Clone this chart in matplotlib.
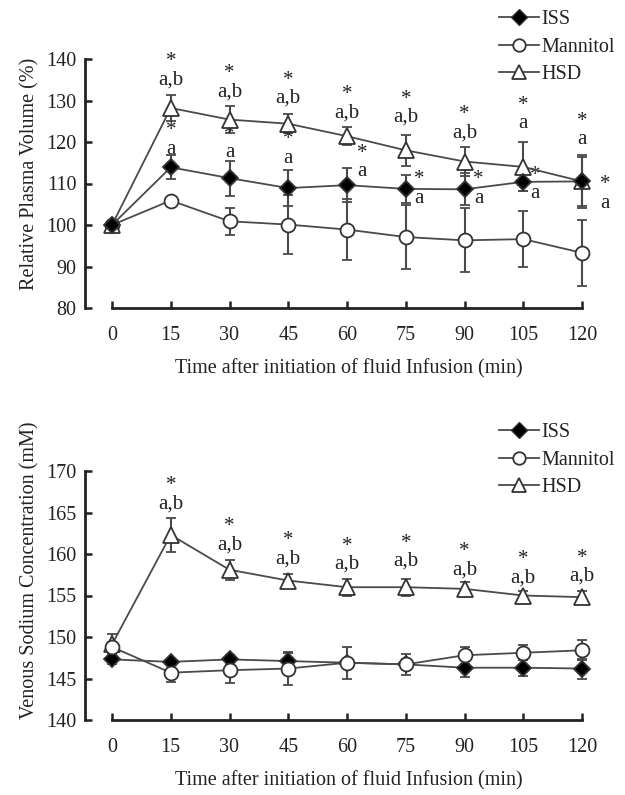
import matplotlib
matplotlib.use("Agg")
import matplotlib.pyplot as plt
from matplotlib.lines import Line2D

plt.rcParams['font.family'] = ['Liberation Serif', 'DejaVu Serif']

times = [0, 15, 30, 45, 60, 75, 90, 105, 120]
groups = ['ISS', 'Mannitol', 'HSD']

# Relative plasma volume (%)
pv_iss = [100, 113.9, 111.3, 108.9, 109.6, 108.7, 108.6, 110.4, 110.5]
pv_iss_err = [0, 2.9, 4.2, 4.3, 4.1, 3.4, 3.9, 2.2, 6.0]
pv_man = [100, 105.9, 100.9, 100.1, 98.9, 97.1, 96.3, 96.6, 93.3]
pv_man_err = [0, 0, 3.2, 7.2, 7.4, 7.7, 7.7, 6.7, 7.9]
pv_hsd = [100, 128.2, 125.4, 124.4, 121.4, 118.0, 115.3, 114.0, 110.5]
pv_hsd_err = [0, 3.2, 3.2, 2.3, 2.1, 3.8, 3.4, 5.9, 6.4]

# significance labels for plasma volume (centre of the two-line "*" / letters block)
pv_ann_hsd_txt = ['a,b', 'a,b', 'a,b', 'a,b', 'a,b', 'a,b', 'a', 'a']
pv_ann_hsd_y = [137.2, 134.2, 132.7, 129.2, 128.1, 124.4, 126.7, 122.7]
pv_ann_iss_x = [15, 30, 45, 63.8, 78.4, 93.6, 108.1, 125.9]
pv_ann_iss_y = [120.5, 119.6, 118.3, 115.0, 108.7, 108.7, 109.8, 107.5]

# Venous sodium concentration (mM)
na_iss = [147.3, 147.0, 147.3, 147.1, 146.9, 146.7, 146.3, 146.3, 146.2]
na_iss_err = [0.6, 0.4, 0.5, 1.0, 0.5, 0.6, 1.1, 1.0, 1.2]
na_man = [148.8, 145.7, 146.0, 146.2, 146.9, 146.7, 147.8, 148.1, 148.4]
na_man_err = [0.6, 1.1, 1.6, 2.0, 1.9, 1.3, 1.0, 0.9, 1.2]
na_hsd = [149.1, 162.3, 158.1, 156.8, 156.0, 156.0, 155.8, 155.0, 154.8]
na_hsd_err = [1.3, 2.0, 1.2, 0.8, 1.0, 1.0, 0.8, 0.6, 0.8]
na_ann_y = [167.1, 162.2, 160.5, 159.85, 160.2, 159.15, 158.25, 158.4]

FS = 14.5
AFS = 15
TC = '#222222'
W, H = 625, 795
fig = plt.figure(figsize=(W / 100, H / 100), dpi=100)

LINEC = '#4a4a4a'
PX_PER_MIN = 58.75 / 15.0
X0 = 112
AX_LEFT = 85
AX_RIGHT = 612
xl = (0 - (X0 - AX_LEFT) / PX_PER_MIN, 120 + (AX_RIGHT - 582) / PX_PER_MIN)


def make_ax(top_px, bottom_px, ymin, px_per_unit):
    ax = fig.add_axes([AX_LEFT / W, 1 - bottom_px / H, (AX_RIGHT - AX_LEFT) / W,
                       (bottom_px - top_px) / H])
    ax.set_xlim(*xl)
    ax.set_ylim(ymin, ymin + (bottom_px - top_px) / px_per_unit)
    ax.patch.set_alpha(0)
    for s in ['top', 'right']:
        ax.spines[s].set_visible(False)
    for s in ['left', 'bottom']:
        ax.spines[s].set_linewidth(2.0)
        ax.spines[s].set_color(TC)
    ax.tick_params(axis='both', direction='in', length=5, width=1.8, color=TC,
                   labelsize=FS, labelcolor=TC)
    ax.tick_params(axis='x', pad=13)
    ax.tick_params(axis='y', pad=6)
    ax.set_xticks(times)
    ax.set_xticklabels([str(t) for t in times])
    return ax


def plot_series(ax, y, err, marker, fc, ms):
    ax.errorbar(times, y, yerr=err, color=LINEC, lw=1.3, elinewidth=1.5, capsize=3.5,
                capthick=1.5, marker=marker, ms=ms, mfc=fc, mec='#333333', mew=1.3,
                clip_on=False, zorder=3)


def legend_handles():
    return [
        Line2D([], [], color=LINEC, lw=1.3, marker='D', ms=8, mfc='black', mec='#333333'),
        Line2D([], [], color=LINEC, lw=1.3, marker='o', ms=9, mfc='white', mec='#333333', mew=1.3),
        Line2D([], [], color=LINEC, lw=1.3, marker='^', ms=10, mfc='white', mec='#333333', mew=1.3),
    ]


def sig(ax, x, y, txt):
    ax.text(x, y, '*\n' + txt, ha='center', va='center', fontsize=AFS, color=TC,
            linespacing=0.95)


# ---------- top panel ----------
ax1 = make_ax(40, 308, 80, 41.5 / 10)
ax1.spines['left'].set_bounds(80, 140)
ax1.spines['bottom'].set_bounds(0, 120)
ax1.set_yticks([80, 90, 100, 110, 120, 130, 140])
plot_series(ax1, pv_man, pv_man_err, 'o', 'white', 10)
plot_series(ax1, pv_hsd, pv_hsd_err, '^', 'white', 11)
plot_series(ax1, pv_iss, pv_iss_err, 'D', 'black', 8)
for i, t in enumerate(times[1:]):
    sig(ax1, t, pv_ann_hsd_y[i], pv_ann_hsd_txt[i])
    sig(ax1, pv_ann_iss_x[i], pv_ann_iss_y[i], 'a')
ax1.set_ylabel('Relative Plasma Volume (%)', fontsize=FS, color=TC, labelpad=5)
ax1.set_xlabel('Time after initiation of fluid Infusion (min)', fontsize=FS, color=TC, labelpad=10)
fig.legend(legend_handles(), groups, loc='upper left', bbox_to_anchor=(489 / W, 1 - 0 / H),
           frameon=False, fontsize=FS, handlelength=2.0, handletextpad=0.1,
           labelspacing=0.42, borderpad=0, labelcolor=TC)

# ---------- bottom panel ----------
ax2 = make_ax(420, 720, 140, 8.3)
ax2.spines['left'].set_bounds(140, 170)
ax2.spines['bottom'].set_bounds(0, 120)
ax2.set_yticks([140, 145, 150, 155, 160, 165, 170])
plot_series(ax2, na_hsd, na_hsd_err, '^', 'white', 11)
plot_series(ax2, na_iss, na_iss_err, 'D', 'black', 8)
plot_series(ax2, na_man, na_man_err, 'o', 'white', 10)
for i, t in enumerate(times[1:]):
    sig(ax2, t, na_ann_y[i], 'a,b')
ax2.set_ylabel('Venous Sodium Concentration (mM)', fontsize=FS, color=TC, labelpad=5)
ax2.set_xlabel('Time after initiation of fluid Infusion (min)', fontsize=FS, color=TC, labelpad=10)
fig.legend(legend_handles(), groups, loc='upper left', bbox_to_anchor=(489 / W, 1 - 413 / H),
           frameon=False, fontsize=FS, handlelength=2.0, handletextpad=0.1,
           labelspacing=0.42, borderpad=0, labelcolor=TC)

fig.savefig('out.png', dpi=100)
